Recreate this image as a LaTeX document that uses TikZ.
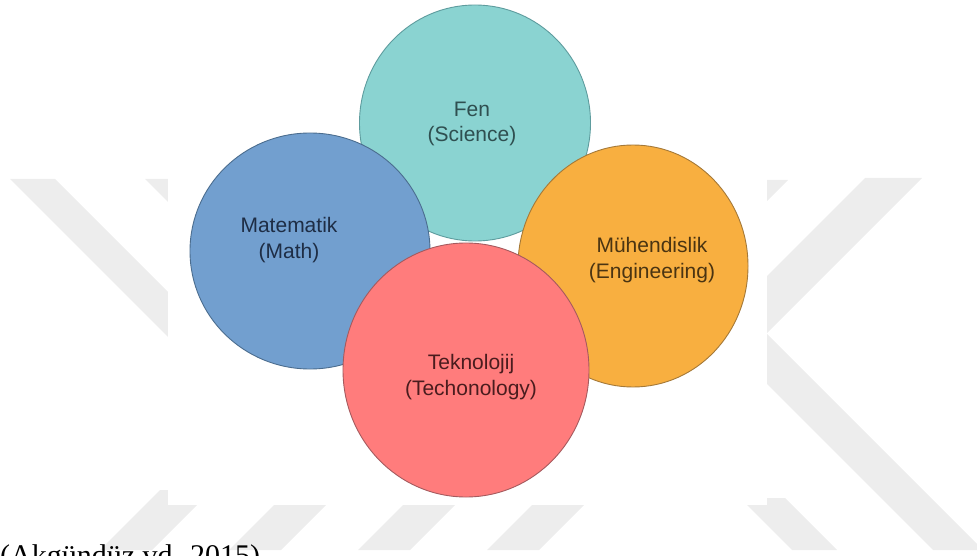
\documentclass[tikz,border=0pt]{standalone}
\usepackage{fontspec}
\setmainfont{Liberation Serif}
\newfontfamily\lblfont{Liberation Sans}
\usetikzlibrary{
  shapes.geometric % For the ellipse shaped discs
}

\definecolor{fenfill}{HTML}{8AD3D1}
\definecolor{fendraw}{HTML}{5E9C9E}
\definecolor{fentext}{HTML}{2F4F50}
\definecolor{matfill}{HTML}{729FCF}
\definecolor{matdraw}{HTML}{4B6D8F}
\definecolor{mattext}{HTML}{1E2D45}
\definecolor{muhfill}{HTML}{F8AF40}
\definecolor{muhdraw}{HTML}{A57938}
\definecolor{muhtext}{HTML}{4A3412}
\definecolor{tekfill}{HTML}{FF7C7C}
\definecolor{tekdraw}{HTML}{A55A5E}
\definecolor{tektext}{HTML}{4A1C1E}
\definecolor{wmark}{HTML}{EDEDED}

\begin{document}
\begin{tikzpicture}[
      x=1pt, y=-1pt, % Pixel like units, y downwards
      bubble/.style={ellipse, draw, line width=0.9pt, inner sep=0pt}, % Style for the discs
      lbl/.style={font=\lblfont\fontsize{21}{25.5}\selectfont, align=center, inner sep=0pt}, % Style for the disc texts
      stripe/.style={fill=wmark, draw=none}, % Style for the watermark bands
    ]

    \useasboundingbox (0,0) rectangle (977,556);

    % Wasserzeichen (links)
    \fill[stripe] (10,179) -- (55,179) -- (250,374) -- (205,374) -- cycle;
    \fill[stripe] (145,179) -- (190,179) -- (240,229) -- (195,229) -- cycle;
    % Wasserzeichen (unten)
    \foreach \bx in {100,229,358,487}
      \fill[stripe] (\bx,550) -- (\bx+52,550) -- (\bx+112,490) -- (\bx+60,490) -- cycle;
    % Wasserzeichen (rechts)
    \fill[stripe] (865,178) -- (922,178) -- (767,333) -- (767,276) -- cycle;
    \fill[stripe] (767,334) -- (767,384) -- (933,550) -- (983,550) -- cycle;
    \fill[stripe] (740,498) -- (785,498) -- (837,550) -- (792,550) -- cycle;
    \fill[stripe] (760,180) -- (788,180) -- (760,208) -- cycle;

    % Hintergrund der Grafik
    \fill[white] (168,0) rectangle (767,505);

    % Kreise
    \node[bubble, fill=fenfill, draw=fendraw, minimum width=231pt, minimum height=236pt] (fen) at (475,123) {};
    \node[lbl, text=fentext] (fenlbl) at (472,124) {Fen\\(Science)};

    \node[bubble, fill=matfill, draw=matdraw, minimum width=240pt, minimum height=236pt] (mat) at (310,251) {};
    \node[lbl, text=mattext] (matlbl) at (289,240) {Matematik\\(Math)};

    \node[bubble, fill=muhfill, draw=muhdraw, minimum width=230pt, minimum height=242pt] (muh) at (633,266) {};
    \node[lbl, text=muhtext] (muhlbl) at (652,260) {Mühendislik\\(Engineering)};

    \node[bubble, fill=tekfill, draw=tekdraw, minimum width=246pt, minimum height=254pt] (tek) at (466,370) {};
    \node[lbl, text=tektext] (teklbl) at (471,377) {Teknolojij\\(Techonology)};

    % Quelle
    \node[anchor=base west, inner sep=0pt, font=\fontsize{30}{36}\selectfont] (src) at (0,565) {(Akgündüz vd. 2015)};

  \end{tikzpicture}
\end{document}
